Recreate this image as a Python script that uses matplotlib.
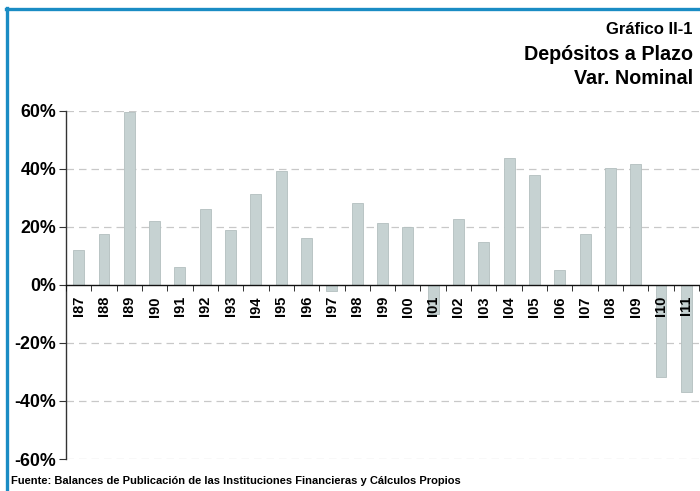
import matplotlib
matplotlib.use("Agg")
import matplotlib.pyplot as plt
from matplotlib.lines import Line2D
import numpy as np

categories = ["I87", "I88", "I89", "I90", "I91", "I92", "I93", "I94", "I95", "I96",
              "I97", "I98", "I99", "I00", "I01", "I02", "I03", "I04", "I05", "I06",
              "I07", "I08", "I09", "I10", "I11"]
values = [12.1, 17.6, 59.7, 22.1, 6.2, 26.2, 19.1, 31.5, 39.3, 16.2,
          -2.1, 28.4, 21.5, 20.0, -10.0, 22.9, 14.8, 43.9, 38.1, 5.0,
          17.7, 40.3, 41.8, -31.7, -36.9]
yticks = [-60, -40, -20, 0, 20, 40, 60]

plt.rcParams['font.family'] = ['Liberation Sans', 'DejaVu Sans']

W, H = 700, 491
fig = plt.figure(figsize=(W / 100, H / 100), dpi=100)
fig.patch.set_facecolor('white')

ax = fig.add_axes([66 / W, 1 - 459 / H, 633 / W, (459 - 111) / H])
x = np.arange(len(categories))
ax.bar(x, values, width=0.43, color='#c6d2d2', edgecolor='#b3bfbf', linewidth=0.6, zorder=3)

ax.set_xlim(-0.5, len(categories) - 0.5)
ax.set_ylim(-60, 60)
ax.set_yticks(yticks)
ax.set_yticklabels([f"{v}%" for v in yticks], fontsize=12.8, fontweight='bold')
for v in yticks:
    if v != 0:
        ax.axhline(v, color='#c8c8c8', linestyle=(0, (6, 4)), linewidth=0.9, zorder=1)

ax.spines['top'].set_visible(False)
ax.spines['right'].set_visible(False)
ax.spines['left'].set_color('#333333')
ax.spines['left'].set_linewidth(1.0)
ax.spines['bottom'].set_position(('data', 0))
ax.spines['bottom'].set_color('#111111')
ax.spines['bottom'].set_linewidth(1.0)
ax.spines['bottom'].set_zorder(4)
ax.tick_params(axis='y', direction='out', length=5, color='#333333', pad=2)

ax.set_xticks(x)
ax.set_xticklabels(categories, rotation=90, fontsize=10.5, fontweight='bold')
ax.tick_params(axis='x', which='major', length=0, pad=8)
ax.set_xticks(np.arange(-0.5, len(categories), 1.0), minor=True)
ax.tick_params(axis='x', which='minor', direction='out', length=4, color='#111111')
ax.xaxis.set_zorder(5)

# Titles
fig.text(693 / W, 1 - 30 / H, "Gráfico II-1", ha='right', va='center', fontsize=12, fontweight='bold')
fig.text(693 / W, 1 - 55 / H, "Depósitos a Plazo", ha='right', va='center', fontsize=14.2, fontweight='bold')
fig.text(693 / W, 1 - 79 / H, "Var. Nominal", ha='right', va='center', fontsize=14.2, fontweight='bold')
fig.text(11 / W, 1 - 481 / H, "Fuente: Balances de Publicación de las Instituciones Financieras y Cálculos Propios",
         ha='left', va='center', fontsize=8.0, fontweight='bold')

# Frame
blue = '#1a8cc4'
fig.add_artist(Line2D([6 / W, 1], [1 - 8.5 / H, 1 - 8.5 / H], transform=fig.transFigure, color=blue, linewidth=2.4))
fig.add_artist(Line2D([6.5 / W, 6.5 / W], [0, 1 - 7.5 / H], transform=fig.transFigure, color=blue, linewidth=2.4))

fig.savefig("out.png", dpi=100)
